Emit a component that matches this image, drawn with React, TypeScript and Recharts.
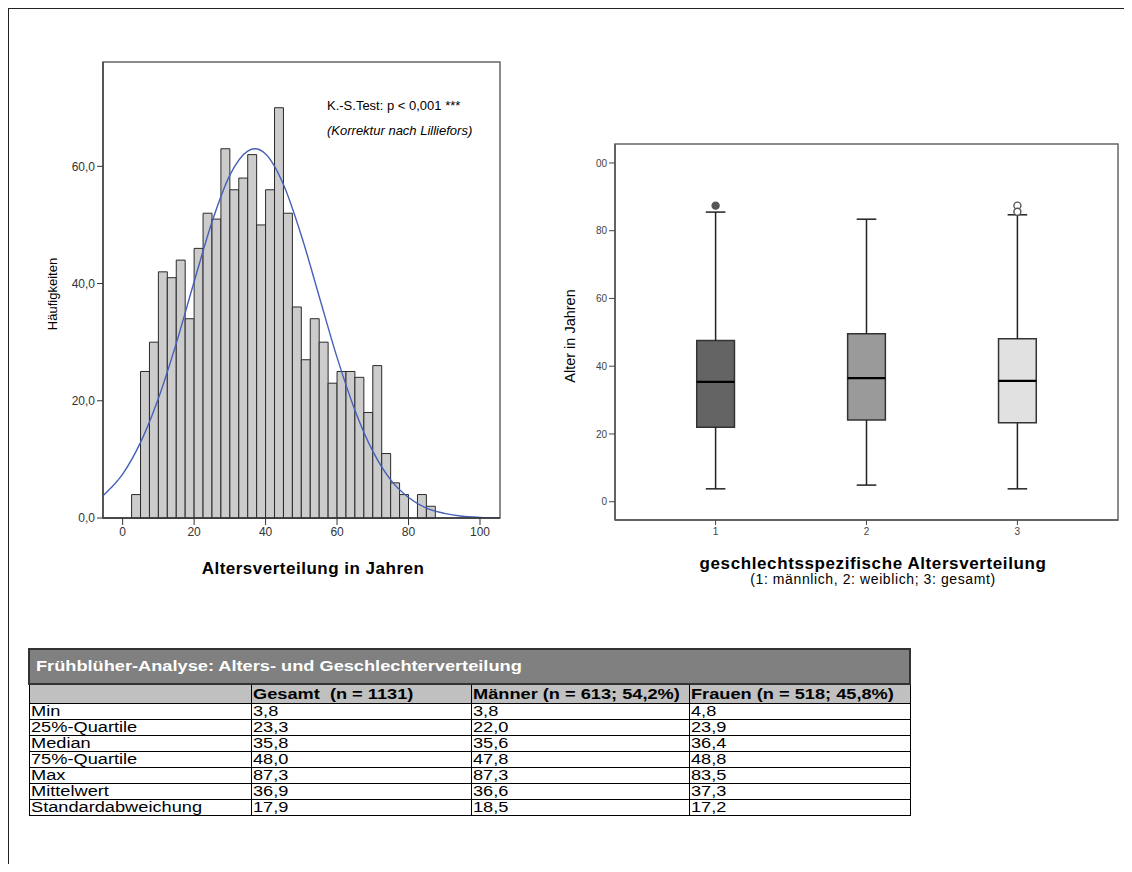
import React from 'react';
import {
  ComposedChart,
  Line,
  XAxis,
  YAxis,
  ReferenceArea,
  ReferenceLine,
  Scatter,
  Label,
} from 'recharts';

// ---------- Histogram data ----------
const binStarts = [
  2.5, 5, 7.5, 10, 12.5, 15, 17.5, 20, 22.5, 25, 27.5, 30, 32.5, 35, 37.5, 40, 42.5,
  45, 47.5, 50, 52.5, 55, 57.5, 60, 62.5, 65, 67.5, 70, 72.5, 75, 77.5, 80, 82.5, 85,
];
const binCounts = [
  4, 25, 30, 42, 41, 44, 34, 46, 52, 51, 63, 56, 58, 62, 50, 56, 70, 52, 36, 27, 34,
  30, 23, 25, 25, 24, 18, 26, 11, 6, 4, 0, 4, 2,
];
const BIN_WIDTH = 2.5;
const curveAges = [
  -5.5, -5, 0, 5, 10, 15, 20, 25, 30, 35, 37, 40, 45, 50, 55, 60, 65, 70, 75, 80, 85,
  90, 95, 100, 105.6,
];
const curveFreq = [
  3.8, 4.1, 7.5, 12.9, 20.4, 29.8, 40.3, 50.5, 58.5, 62.6, 63.0, 62.1, 56.9, 48.2,
  37.8, 27.4, 18.4, 11.4, 6.5, 3.5, 1.7, 0.8, 0.3, 0.1, 0.0,
];
const histXTicks = [0, 20, 40, 60, 80, 100];
const histYTicks = [0, 20, 40, 60];
const HIST_X_DOMAIN: [number, number] = [-5.5, 105.6];
const HIST_Y_DOMAIN: [number, number] = [0, 77.8];

// ---------- Box plot data ----------
const boxGroups = [1, 2, 3];
const boxMin = [3.8, 4.9, 3.8];
const boxQ1 = [22.0, 24.1, 23.3];
const boxMedian = [35.4, 36.5, 35.7];
const boxQ3 = [47.6, 49.6, 48.1];
const boxMax = [85.5, 83.4, 84.7];
const boxFills = ['#646464', '#9a9a9a', '#e1e1e1'];
const outlierGroup = [1, 3, 3];
const outlierAge = [87.4, 87.4, 85.6];
const boxYTicks = [0, 20, 40, 60, 80, 100];
const BOX_X_DOMAIN: [number, number] = [1 / 3, 11 / 3];
const BOX_Y_DOMAIN: [number, number] = [-5.4, 105.6];
const BOX_HALF = 0.125;
const CAP_HALF = 0.065;

// ---------- Table data ----------
const tableTitle = 'Frühblüher-Analyse: Alters- und Geschlechterverteilung';
const tableColumns = ['', 'Gesamt  (n = 1131)', 'Männer (n = 613; 54,2%)', 'Frauen (n = 518; 45,8%)'];
const statLabels = ['Min', '25%-Quartile', 'Median', '75%-Quartile', 'Max', 'Mittelwert', 'Standardabweichung'];
const gesamtStats = ['3,8', '23,3', '35,8', '48,0', '87,3', '36,9', '17,9'];
const maennerStats = ['3,8', '22,0', '35,6', '47,8', '87,3', '36,6', '18,5'];
const frauenStats = ['4,8', '23,9', '36,4', '48,8', '83,5', '37,3', '17,2'];

const FONT = "'Liberation Sans', Arial, sans-serif";

const curveData = curveAges.map((x, i) => ({ x, y: curveFreq[i] }));
const outlierData = outlierGroup.map((g, i) => ({ x: g, y: outlierAge[i], filled: g === 1 }));

const HistYLabel = (props: any) => {
  const vb = props.viewBox;
  const x = vb.x + vb.width - 51;
  const y = vb.y + vb.height / 2 + 4;
  return (
    <text x={x} y={y} transform={`rotate(-90, ${x}, ${y})`} textAnchor="middle" dominantBaseline="central"
      fontSize={13} fill="#000" fontFamily={FONT}>
      Häufigkeiten
    </text>
  );
};

const HistXLabel = (props: any) => {
  const vb = props.viewBox;
  return (
    <text x={vb.x + vb.width / 2 + 11.5} y={vb.y + 56} textAnchor="middle" fontSize={17} letterSpacing={0.5}
      fontWeight="bold" fill="#000" fontFamily={FONT}>
      Altersverteilung in Jahren
    </text>
  );
};

const BoxYLabel = (props: any) => {
  const vb = props.viewBox;
  const x = vb.x + vb.width - 45;
  const y = vb.y + vb.height / 2 + 4;
  return (
    <text x={x} y={y} transform={`rotate(-90, ${x}, ${y})`} textAnchor="middle" dominantBaseline="central"
      fontSize={14.5} fill="#000" fontFamily={FONT}>
      Alter in Jahren
    </text>
  );
};

const BoxXLabel = (props: any) => {
  const vb = props.viewBox;
  const cx = vb.x + vb.width / 2 + 6.5;
  return (
    <g>
      <text x={cx} y={vb.y + 49} textAnchor="middle" fontSize={17} letterSpacing={0.6} fontWeight="bold" fill="#000" fontFamily={FONT}>
        geschlechtsspezifische Altersverteilung
      </text>
      <text x={cx} y={vb.y + 64} textAnchor="middle" fontSize={14} letterSpacing={0.6} fill="#000" fontFamily={FONT}>
        (1: männlich, 2: weiblich; 3: gesamt)
      </text>
    </g>
  );
};

const OutlierShape = (props: any) => {
  const { cx, cy, payload } = props;
  return (
    <circle cx={cx} cy={cy} r={3.5} fill={payload.filled ? '#555' : '#fff'} stroke="#555" strokeWidth={1.4} />
  );
};

const Histogram = () => (
  <ComposedChart
    width={500}
    height={550}
    data={curveData}
    margin={{ top: 22, right: 20, left: 0, bottom: 0 }}
    style={{ fontFamily: FONT }}
  >
    <XAxis
      dataKey="x"
      type="number"
      domain={HIST_X_DOMAIN}
      ticks={histXTicks}
      allowDataOverflow
      height={72}
      tickSize={7}
      tickMargin={2}
      tick={{ fontSize: 12, fill: '#333' }}
      tickLine={{ stroke: '#333' }}
      axisLine={{ stroke: '#333', strokeWidth: 1.5 }}
    >
      <Label content={<HistXLabel />} />
    </XAxis>
    <YAxis
      type="number"
      domain={HIST_Y_DOMAIN}
      ticks={histYTicks}
      allowDataOverflow
      width={83}
      tickSize={6}
      tickMargin={2}
      tickFormatter={(v: number) => v.toFixed(1).replace('.', ',')}
      tick={{ fontSize: 12, fill: '#333' }}
      tickLine={{ stroke: '#333' }}
      axisLine={{ stroke: '#444', strokeWidth: 1.5 }}
    >
      <Label content={<HistYLabel />} />
    </YAxis>
    <ReferenceArea
      x1={HIST_X_DOMAIN[0]}
      x2={HIST_X_DOMAIN[1]}
      y1={HIST_Y_DOMAIN[0]}
      y2={HIST_Y_DOMAIN[1]}
      fill="none"
      stroke="#666"
      strokeWidth={1.5}
    />
    {binStarts.map((s, i) =>
      binCounts[i] > 0 ? (
        <ReferenceArea
          key={`bin-${i}`}
          x1={s}
          x2={s + BIN_WIDTH}
          y1={0}
          y2={binCounts[i]}
          fill="#cccccc"
          fillOpacity={1}
          stroke="#2a2a2a"
          strokeWidth={1}
        />
      ) : null
    )}
    <Line
      dataKey="y"
      type="monotone"
      stroke="#4660b8"
      strokeWidth={1.4}
      dot={false}
      activeDot={false}
      isAnimationActive={false}
    />
  </ComposedChart>
);

const BoxPlot = () => (
  <ComposedChart
    width={583}
    height={480}
    data={outlierData}
    margin={{ top: 24, right: 10, left: 0, bottom: 0 }}
    style={{ fontFamily: FONT }}
  >
    <XAxis
      dataKey="x"
      type="number"
      domain={BOX_X_DOMAIN}
      ticks={boxGroups}
      allowDataOverflow
      height={80}
      tickSize={5}
      tickMargin={3}
      tick={{ fontSize: 10, fill: '#444' }}
      tickLine={{ stroke: '#444' }}
      axisLine={{ stroke: '#555', strokeWidth: 1.5 }}
    >
      <Label content={<BoxXLabel />} />
    </XAxis>
    <YAxis
      dataKey="y"
      type="number"
      domain={BOX_Y_DOMAIN}
      ticks={boxYTicks}
      allowDataOverflow
      width={70}
      tickSize={6}
      tickMargin={2}
      tickFormatter={(v: number) => (v === 100 ? '00' : String(v))}
      tick={{ fontSize: 10, fill: '#444' }}
      tickLine={{ stroke: '#444' }}
      axisLine={{ stroke: '#555', strokeWidth: 1.5 }}
    >
      <Label content={<BoxYLabel />} />
    </YAxis>
    <ReferenceArea
      x1={BOX_X_DOMAIN[0]}
      x2={BOX_X_DOMAIN[1]}
      y1={BOX_Y_DOMAIN[0]}
      y2={BOX_Y_DOMAIN[1]}
      fill="none"
      stroke="#666"
      strokeWidth={1.5}
    />
    {boxGroups.map((g, i) => (
      <ReferenceLine key={`wl-${i}`} segment={[{ x: g, y: boxMin[i] }, { x: g, y: boxQ1[i] }]} stroke="#222" strokeWidth={1.5} />
    ))}
    {boxGroups.map((g, i) => (
      <ReferenceLine key={`wu-${i}`} segment={[{ x: g, y: boxQ3[i] }, { x: g, y: boxMax[i] }]} stroke="#222" strokeWidth={1.5} />
    ))}
    {boxGroups.map((g, i) => (
      <ReferenceLine key={`cl-${i}`} segment={[{ x: g - CAP_HALF, y: boxMin[i] }, { x: g + CAP_HALF, y: boxMin[i] }]} stroke="#222" strokeWidth={1.5} />
    ))}
    {boxGroups.map((g, i) => (
      <ReferenceLine key={`cu-${i}`} segment={[{ x: g - CAP_HALF, y: boxMax[i] }, { x: g + CAP_HALF, y: boxMax[i] }]} stroke="#222" strokeWidth={1.5} />
    ))}
    {boxGroups.map((g, i) => (
      <ReferenceArea
        key={`box-${i}`}
        x1={g - BOX_HALF}
        x2={g + BOX_HALF}
        y1={boxQ1[i]}
        y2={boxQ3[i]}
        fill={boxFills[i]}
        fillOpacity={1}
        stroke="#333"
        strokeWidth={1.5}
      />
    ))}
    {boxGroups.map((g, i) => (
      <ReferenceLine key={`md-${i}`} segment={[{ x: g - BOX_HALF, y: boxMedian[i] }, { x: g + BOX_HALF, y: boxMedian[i] }]} stroke="#000" strokeWidth={2.2} />
    ))}
    <Scatter dataKey="y" shape={<OutlierShape />} isAnimationActive={false} />
  </ComposedChart>
);

const cellBase: React.CSSProperties = {
  border: '1px solid #000',
  padding: '0 1px',
  height: 15,
  lineHeight: '15px',
  whiteSpace: 'pre',
  fontSize: 14,
  textAlign: 'left',
  verticalAlign: 'middle',
  overflow: 'visible',
};

const Stretch = ({ children }: { children: React.ReactNode }) => (
  <span style={{ display: 'inline-block', transform: 'scaleX(1.3)', transformOrigin: 'left center', whiteSpace: 'pre' }}>
    {children}
  </span>
);

const StatsTable = () => {
  const rows = statLabels.map((l, i) => [l, gesamtStats[i], maennerStats[i], frauenStats[i]]);
  const widths = [222, 220, 218, 221];
  return (
    <table style={{ borderCollapse: 'collapse', fontFamily: FONT, tableLayout: 'fixed', width: 882 }}>
      <colgroup>
        {widths.map((w, i) => (
          <col key={i} style={{ width: w }} />
        ))}
      </colgroup>
      <tbody>
        <tr>
          <td
            colSpan={4}
            style={{
              ...cellBase,
              border: '2px solid #333',
              background: '#808080',
              color: '#fff',
              fontWeight: 'bold',
              fontSize: 14,
              height: 33,
              lineHeight: '33px',
              paddingLeft: 6,
            }}
          >
            <Stretch>{tableTitle}</Stretch>
          </td>
        </tr>
        <tr>
          {tableColumns.map((c, i) => (
            <td key={i} style={{ ...cellBase, background: '#c0c0c0', fontWeight: 'bold', height: 18, lineHeight: '18px' }}>
              <Stretch>{c}</Stretch>
            </td>
          ))}
        </tr>
        {rows.map((r, ri) => (
          <tr key={ri}>
            {r.map((c, ci) => (
              <td key={ci} style={cellBase}>
                <Stretch>{c}</Stretch>
              </td>
            ))}
          </tr>
        ))}
      </tbody>
    </table>
  );
};

export default function App() {
  return (
    <div style={{ position: 'relative', width: 1124, height: 864, marginBottom: -8, fontFamily: FONT, background: '#fff' }}>
      <div
        style={{
          position: 'absolute',
          left: 0,
          top: 0,
          width: 1124,
          height: 864,
          borderTop: '1.5px solid #222',
          borderLeft: '1.5px solid #222',
          boxSizing: 'border-box',
        }}
      />
      <div style={{ position: 'absolute', left: 12, top: 32 }}>
        <Histogram />
      </div>
      <div style={{ position: 'absolute', left: 319, top: 90, fontSize: 13, color: '#000', whiteSpace: 'nowrap' }}>
        K.-S.Test: p &lt; 0,001 ***
      </div>
      <div style={{ position: 'absolute', left: 319, top: 115, fontSize: 13, fontStyle: 'italic', color: '#000', whiteSpace: 'nowrap' }}>
        (Korrektur nach Lilliefors)
      </div>
      <div style={{ position: 'absolute', left: 537, top: 112 }}>
        <BoxPlot />
      </div>
      <div style={{ position: 'absolute', left: 20, top: 640 }}>
        <StatsTable />
      </div>
    </div>
  );
}
